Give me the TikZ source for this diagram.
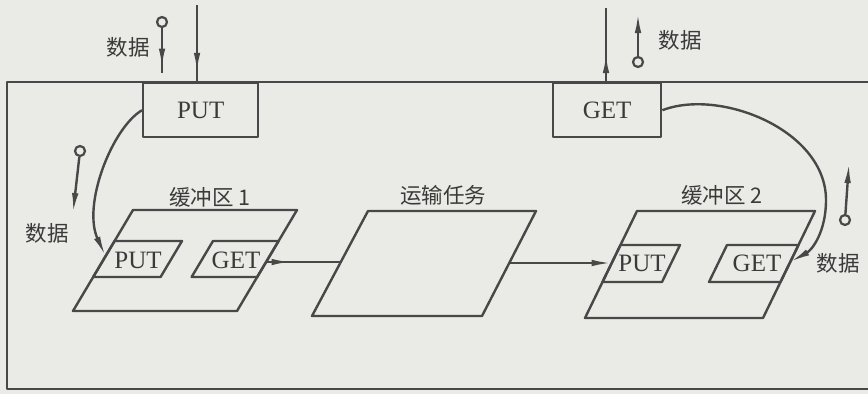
\documentclass[tikz,border=0pt]{standalone}
\usepackage{fontspec}
\setmainfont{Liberation Serif}
\newfontfamily\cjk{Noto Sans CJK SC}
\usetikzlibrary{arrows.meta,decorations.markings}
\definecolor{bg}{RGB}{234,234,230}
\definecolor{ink}{RGB}{72,72,72}
\definecolor{txt}{RGB}{58,58,58}
\begin{document}
\begin{tikzpicture}[
  ln/.style={draw=ink,line width=2.4pt,line join=round},
  lat/.style={font=\fontsize{25}{25}\selectfont,text=txt,inner sep=0pt},
  zh/.style={font=\cjk\fontsize{21.5}{21.5}\selectfont,text=txt,inner sep=0pt},
  box/.style={ln,rectangle,inner sep=0pt,fill=bg,font=\fontsize{25}{25}\selectfont,text=txt},
  pinc/.style={circle,draw=ink,line width=2.2pt,minimum size=10pt,inner sep=0pt},
  tipk/.style={-{Latex[length=20pt,width=6.5pt]}},
  arrat/.style={postaction={decorate},decoration={markings,
     mark=at position #1 with {\arrow{Latex[length=20pt,width=6.5pt]}}}}]
\begin{scope}[x=1pt,y=-1pt]
\fill[bg] (0,0) rectangle (868,394);
\useasboundingbox (0,0) rectangle (868,394);

% outer frame
\draw[ln] (868,82) -- (7,82) -- (7,389) -- (868,389);

% top boxes
\node[box,minimum width=115pt,minimum height=54pt,anchor=north west] (putb) at (142,82) {PUT};
\node[box,minimum width=108pt,minimum height=54pt,anchor=north west] (getb) at (552,82) {GET};

% lines into boxes
\coordinate (putin) at (197,5);
\draw[ln,arrat=0.88] (putin) -- (putin |- putb.north);
\coordinate (getout) at (606,8);
\draw[ln,arrat=0.39] (getout |- getb.north) -- (getout);

% data pins
\node[pinc] (c1) at (162,22) {};
\coordinate (e1) at (162,73);
\draw[ln,arrat=0.9] (c1) -- (e1);
\node[zh] (d1) at (128,47) {数据};

\node[pinc] (c2) at (638,62) {};
\coordinate (e2) at (638,13);
\draw[ln,tipk] (c2) -- (e2);
\node[zh] (d2) at (680,40) {数据};

\node[pinc] (c3) at (80,151) {};
\coordinate (e3) at (73,213);
\draw[ln,tipk] (c3) -- (e3);
\node[zh] (d3) at (47,233) {数据};

\node[pinc] (c4) at (845,220) {};
\coordinate (e4) at (849,163);
\draw[ln,tipk] (c4) -- (e4);
\node[zh] (d4) at (838,263) {数据};

% buffer 1
\draw[ln] (133,210) -- (297,210) -- (237,311) -- (73,311) -- cycle;
\draw[ln] (114.6,241) -- (182,241) -- (160.6,277) -- (93.2,277) -- cycle;
\draw[ln] (213,241) -- (278.6,241) -- (257.2,277) -- (191.6,277) -- cycle;
\node[lat] (p1t) at (138,260) {PUT};
\node[lat] (g1t) at (236,260) {GET};
\node[zh] (b1l) at (210,197) {缓冲区 1};

% transport task
\draw[ln] (368,211) -- (536,211) -- (482,316) -- (312,316) -- cycle;
\node[zh] (tl) at (443,195) {运输任务};

% buffer 2
\draw[ln] (637,211) -- (815,211) -- (763,318) -- (585,318) -- cycle;
\draw[ln] (620.5,245) -- (680,245) -- (662,282) -- (602.5,282) -- cycle;
\draw[ln] (727,245) -- (798.5,245) -- (780.5,282) -- (709,282) -- cycle;
\node[lat] (p2t) at (642,263) {PUT};
\node[lat] (g2t) at (757,263) {GET};
\node[zh] (b2l) at (722,195) {缓冲区 2};

% connection points
\coordinate (p1l) at (105.5,256);
\coordinate (g1r) at (266.1,262);
\coordinate (tkl) at (340.8,262);
\coordinate (tkr) at (509,263);
\coordinate (p2l) at (611.7,263);
\coordinate (g2r) at (790,262);

\draw[ln,arrat=0.34] (g1r) -- (tkl);
\draw[ln,tipk] (tkr) -- (p2l);

\draw[ln,tipk] (putb.west) .. controls (112,128) and (82,205) .. (p1l);
\draw[ln,tipk] (getb.east) .. controls (720,88) and (826,130) .. (826,200)
   .. controls (826,232) and (812,250) .. (g2r);
\end{scope}
\end{tikzpicture}
\end{document}
